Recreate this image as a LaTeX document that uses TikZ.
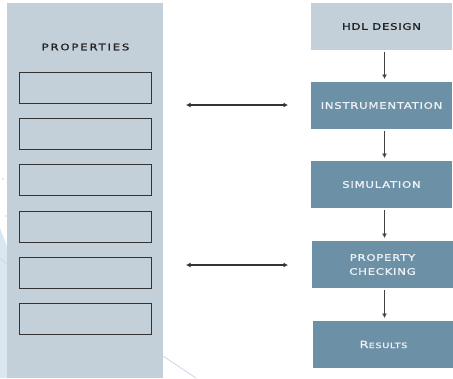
\documentclass[tikz,border=0pt]{standalone}
\usepackage{fontspec}
\usetikzlibrary{arrows.meta}
\newfontfamily\lblfont[FakeStretch=1.3,FakeBold=1.2,LetterSpace=8]{DejaVu Sans}
\newfontfamily\lblfontwide[FakeStretch=1.3,FakeBold=1.2,LetterSpace=20]{DejaVu Sans}
\definecolor{panelc}{HTML}{C3CFD9}
\definecolor{darkc}{HTML}{6C90A5}
\definecolor{textd}{HTML}{222222}
\definecolor{textw}{HTML}{EEF2F5}
\definecolor{faintc}{HTML}{DCE6EF}
\definecolor{faintl}{HTML}{C9D5EA}
\tikzset{
  every node/.style={inner sep=0pt, outer sep=0pt},
  propbox/.style={draw=black!80, line width=0.9pt, fill=panelc, minimum width=132pt, minimum height=31pt, anchor=north west},
  lightstep/.style={fill=panelc, minimum width=141pt, minimum height=47pt, anchor=north west, font=\lblfont\fontsize{9}{11}\selectfont, text=textd, align=center},
  darkstep/.style={fill=darkc, minimum width=141pt, minimum height=47pt, anchor=north west, font=\lblfont\fontsize{9}{14}\selectfont, text=textw, align=center},
  flow/.style={draw=black!75, line width=1.7pt, -{Latex[length=4.5pt,width=5pt]}},
  biarrow/.style={draw=black!80, line width=1.3pt, {Latex[length=4.5pt,width=5pt]}-{Latex[length=4.5pt,width=5pt]}}
}
\begin{document}
\begin{tikzpicture}[x=1pt,y=-1pt]
\useasboundingbox (0,0) rectangle (453,378);
% faint background watermark
\fill[faintc] (0,228) -- (7,246) -- (7,378) -- (0,378) -- cycle;
\draw[faintl, line width=0.6pt] (0,258) -- (7,264);
\draw[faintl, line width=0.8pt] (163,356) -- (196,378);
\fill[faintl] (3,179) circle (0.8pt);
\fill[faintl] (6,216) circle (0.8pt);
% left panel
\node[fill=panelc, minimum width=156pt, minimum height=375pt, anchor=north west] (panel) at (7,3) {};
\node[font=\lblfontwide\fontsize{9}{10}\selectfont, text=textd] (ptitle) at (85.5,47) {PROPERTIES};
\node[propbox] (p1) at (19,72) {};
\node[propbox] (p2) at (19,118) {};
\node[propbox] (p3) at (19,164) {};
\node[propbox] (p4) at (19,211) {};
\node[propbox] (p5) at (19,257) {};
\node[propbox] (p6) at (19,303) {};
% right flow
\node[lightstep] (hdl) at (311,3) {HDL DESIGN};
\node[darkstep] (inst) at (311,82) {INSTRUMENTATION};
\node[darkstep] (sim) at (311,161) {SIMULATION};
\node[darkstep] (pc) at (312,241) {PROPERTY\\CHECKING};
\node[darkstep, font=\lblfont\fontsize{10}{12}\selectfont] (res) at (313,321) {R{\fontsize{7.5}{9}\selectfont ESULTS}};
\draw[flow] ([xshift=3pt,yshift=-2pt]hdl.south) -- ([xshift=3pt,yshift=3pt]inst.north);
\draw[flow] ([xshift=3pt,yshift=-2pt]inst.south) -- ([xshift=3pt,yshift=3pt]sim.north);
\draw[flow] ([xshift=3pt,yshift=-2pt]sim.south) -- ([xshift=2pt,yshift=3pt]pc.north);
\draw[flow] ([xshift=2pt,yshift=-2pt]pc.south) -- ([xshift=1pt,yshift=3pt]res.north);
% double arrows
\coordinate (a1l) at (186,105);
\coordinate (a1r) at (288,105);
\coordinate (a2l) at (186,265);
\coordinate (a2r) at (288,265);
\draw[biarrow] (a1l) -- (a1r);
\draw[biarrow] (a2l) -- (a2r);
\end{tikzpicture}
\end{document}
